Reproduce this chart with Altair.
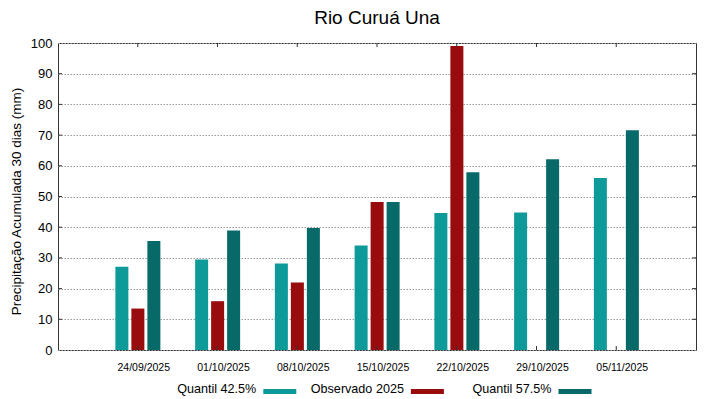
import altair as alt
import pandas as pd

# ---- data ----
dates = ["24/09/2025", "01/10/2025", "08/10/2025", "15/10/2025",
         "22/10/2025", "29/10/2025", "05/11/2025"]
series = ["Quantil 42.5%", "Observado 2025", "Quantil 57.5%"]
q425 = [27.1, 29.5, 28.2, 34.0, 44.6, 44.8, 56.0]
obs2025 = [13.5, 15.9, 22.0, 48.2, 99.0, None, None]
q575 = [35.5, 38.9, 39.7, 48.2, 57.9, 62.1, 71.6]
colors = ["#0f9a9a", "#980c0e", "#076a69"]
y_ticks = [10, 20, 30, 40, 50, 60, 70, 80, 90]
y_labels = [0, 10, 20, 30, 40, 50, 60, 70, 80, 90, 100]

FONT = "Liberation Sans"
W, H = 638, 307

rows = []
for name, vals in zip(series, [q425, obs2025, q575]):
    for d, v in zip(dates, vals):
        if v is not None:
            rows.append({"data": d, "serie": name, "valor": v})
df = pd.DataFrame(rows)
legend_df = pd.DataFrame({"serie": series})
ticks_x_df = pd.DataFrame({"data": dates})
ticks_y_df = pd.DataFrame({"valor": y_ticks})

xscale = alt.Scale(domain=dates, paddingInner=0, paddingOuter=0.5)
yscale = alt.Scale(domain=[0, 100], nice=False)
xaxis = alt.Axis(title=None, labelAngle=0, labelFont=FONT, labelFontSize=10.5,
                 labelColor="#000", tickSize=0, domain=False, labelPadding=12,
                 labelOffset=6, grid=False)
yaxis = alt.Axis(title="Precipitação Acumulada 30 dias (mm)", values=y_labels,
                 labelFont=FONT, labelFontSize=13, labelColor="#000", labelOverlap=False,
                 titleFont=FONT, titleFontSize=13.5, titleFontWeight="normal",
                 titleColor="#000", titlePadding=7, titleY=158,
                 tickSize=0, labelPadding=6, domain=False,
                 grid=True, gridDash=[1.5, 1.5], gridColor="#999", gridWidth=1)
X = alt.X("data:N", scale=xscale, sort=dates, axis=xaxis)
Y = alt.Y("valor:Q", scale=yscale, axis=yaxis)
color = alt.Color("serie:N", scale=alt.Scale(domain=series, range=colors), legend=None)

bars = alt.Chart(df).mark_bar().encode(
    x=X,
    xOffset=alt.XOffset("serie:N", sort=series,
                        scale=alt.Scale(domain=series, range=[16, 64],
                                        paddingInner=0.1875, paddingOuter=0.09375)),
    y=Y,
    color=color,
)

tick_bottom = alt.Chart(ticks_x_df).mark_rule(color="#333").encode(
    x=X, y=alt.value(H), y2=alt.value(H - 4))
tick_top = alt.Chart(ticks_x_df).mark_rule(color="#333").encode(
    x=X, y=alt.value(0), y2=alt.value(4))
tick_left = alt.Chart(ticks_y_df).mark_rule(color="#333").encode(
    y=Y, x=alt.value(0), x2=alt.value(4))
tick_right = alt.Chart(ticks_y_df).mark_rule(color="#333").encode(
    y=Y, x=alt.value(W), x2=alt.value(W - 4))

main = alt.layer(bars, tick_bottom, tick_top, tick_left, tick_right).properties(
    width=W, height=H,
    view=alt.ViewBackground(stroke="#333", strokeWidth=1),
    title=alt.TitleParams("Rio Curuá Una", font=FONT, fontSize=19, fontWeight="normal",
                          color="#000", anchor="middle", frame="group", offset=9),
)

lx = alt.X("serie:N", sort=series, axis=None,
           scale=alt.Scale(type="point", domain=series, range=[221.8, 517.0], padding=0))
leg_sw = alt.Chart(legend_df).mark_tick(orient="horizontal", size=33, thickness=5,
                                        opacity=1).encode(
    x=lx, y=alt.value(13.4), color=color)
leg_tx = alt.Chart(legend_df).mark_text(align="right", baseline="alphabetic", dx=-23.5,
                                        font=FONT, fontSize=12.6, color="#000").encode(
    x=lx, y=alt.value(15), text="serie:N")
legend = alt.layer(leg_sw, leg_tx).properties(
    width=600, height=10, view=alt.ViewBackground(strokeWidth=0))

chart = alt.vconcat(main, legend, spacing=5).properties(
    padding={"left": 0, "top": 0, "right": 5, "bottom": 0},
).configure_view(strokeWidth=0).configure(background="white")

chart.save("out.html", embed_options={"renderer": "svg", "actions": False})
